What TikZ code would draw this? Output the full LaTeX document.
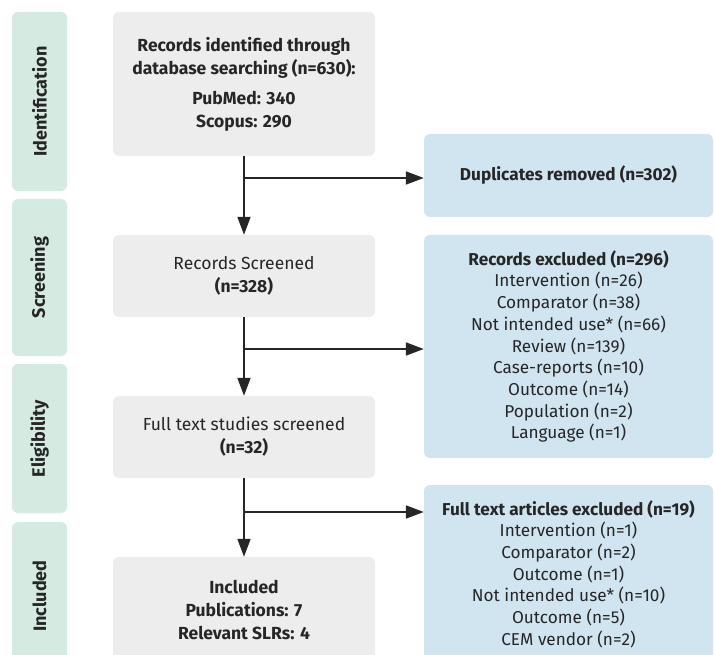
\documentclass[tikz,border=0pt]{standalone}
\usepackage{fontspec}
\setmainfont{Fira Sans}
\usetikzlibrary{arrows.meta,positioning,calc}
\definecolor{prismagray}{HTML}{EDEDED}
\definecolor{prismablue}{HTML}{D1E5F0}
\definecolor{prismamint}{HTML}{D5EBE2}
\definecolor{prismaink}{HTML}{262626}
\tikzset{
  stagebar/.style={fill=prismamint,rounded corners=6pt,inner sep=0pt,minimum height=55pt,rotate=90,text=prismaink,font=\fontsize{18}{20}\selectfont\bfseries},
  flowbox/.style={fill=prismagray,rounded corners=6pt,inner sep=0pt,minimum width=262pt,align=center,text=prismaink,font=\fontsize{17.5}{23}\selectfont},
  exclbox/.style={fill=prismablue,rounded corners=6pt,inner sep=0pt,minimum width=289pt,align=center,text=prismaink,font=\fontsize{17.2}{21.7}\selectfont},
  flowarrow/.style={-{Triangle[length=18pt,width=13pt]},line width=1.8pt,draw=prismaink},
  flowline/.style={line width=1.8pt,draw=prismaink}
}

\begin{document}
\begin{tikzpicture}[x=1pt,y=-1pt]
\useasboundingbox (0,0) rectangle (715,655);
\clip (0,0) rectangle (715,655);
% stage bars on the left
\node[stagebar,minimum width=179pt] (sident) at (39.5,101.5) {Identification};
\node[stagebar,minimum width=157pt] (sscreen) at (39.5,277.5) {Screening};
\node[stagebar,minimum width=149pt] (selig) at (39.5,438.5) {Eligibility};
\node[stagebar,minimum width=148pt] (sincl) at (39.5,596) {Included};
% main flow
\node[flowbox,minimum height=144pt] (ident) at (244,84) {\bfseries Records identified through\\\bfseries database searching (n=630):\\[7pt]\bfseries PubMed: 340\\\bfseries Scopus: 290};
\node[flowbox,minimum height=82pt] (screen) at (244,276) {Records Screened\\\bfseries (n=328)};
\node[flowbox,minimum height=82pt] (full) at (244,437) {Full text studies screened\\\bfseries (n=32)};
\node[flowbox,minimum height=106pt] (incl) at (244,610) {\bfseries Included\\\bfseries Publications: 7\\\bfseries Relevant SLRs: 4};
% exclusions
\node[exclbox,minimum height=83pt] (dup) at (568.5,175.5) {\bfseries Duplicates removed (n=302)};
\node[exclbox,minimum height=223pt] (excl) at (568.5,346.5) {\bfseries Records excluded (n=296)\\Intervention (n=26)\\Comparator (n=38)\\Not intended use* (n=66)\\Review (n=139)\\Case-reports (n=10)\\Outcome (n=14)\\Population (n=2)\\Language (n=1)};
\node[exclbox,minimum height=178pt] (ftexcl) at (568.5,574) {\bfseries Full text articles excluded (n=19)\\Intervention (n=1)\\Comparator (n=2)\\Outcome (n=1)\\Not intended use* (n=10)\\Outcome (n=5)\\CEM vendor (n=2)};
% connectors
\coordinate (b1) at (244,178);
\coordinate (b2) at (244,349);
\coordinate (b3) at (244,512);
\draw[flowarrow] (ident) -- (screen);
\draw[flowarrow] (screen) -- (full);
\draw[flowarrow] (full) -- (incl);
\draw[flowarrow] (b1) -- (b1 -| dup.west);
\draw[flowarrow] (b2) -- (b2 -| excl.west);
\draw[flowarrow] (b3) -- (b3 -| ftexcl.west);
\end{tikzpicture}
\end{document}
